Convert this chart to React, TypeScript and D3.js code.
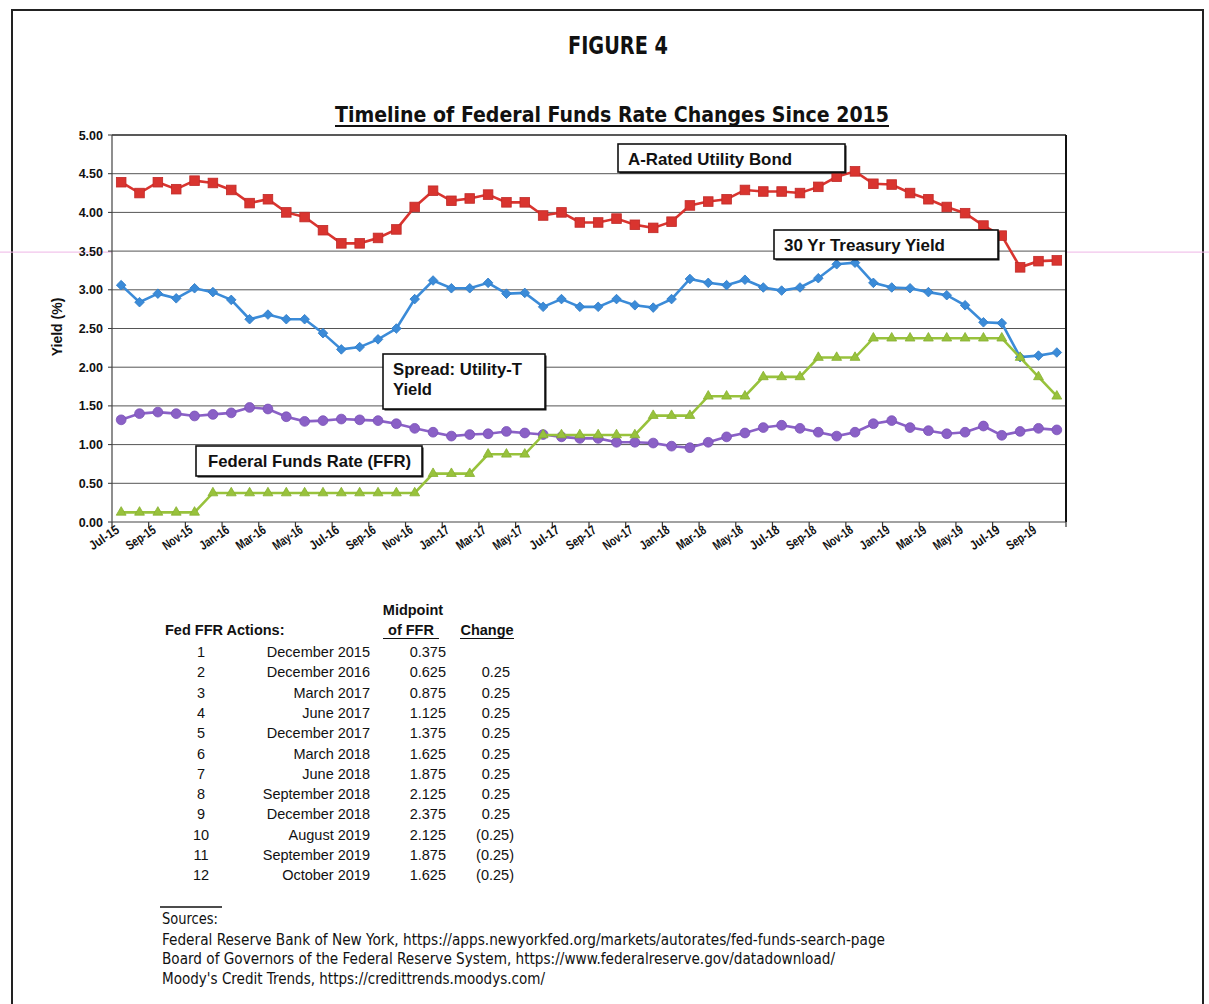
import * as d3 from 'd3'

const months = [
	'Jul-15', 'Aug-15', 'Sep-15', 'Oct-15', 'Nov-15', 'Dec-15',
	'Jan-16', 'Feb-16', 'Mar-16', 'Apr-16', 'May-16', 'Jun-16', 'Jul-16', 'Aug-16', 'Sep-16', 'Oct-16', 'Nov-16', 'Dec-16',
	'Jan-17', 'Feb-17', 'Mar-17', 'Apr-17', 'May-17', 'Jun-17', 'Jul-17', 'Aug-17', 'Sep-17', 'Oct-17', 'Nov-17', 'Dec-17',
	'Jan-18', 'Feb-18', 'Mar-18', 'Apr-18', 'May-18', 'Jun-18', 'Jul-18', 'Aug-18', 'Sep-18', 'Oct-18', 'Nov-18', 'Dec-18',
	'Jan-19', 'Feb-19', 'Mar-19', 'Apr-19', 'May-19', 'Jun-19', 'Jul-19', 'Aug-19', 'Sep-19', 'Oct-19',
]

// A-Rated utility bond yield
const utilityBond = [
	4.39, 4.25, 4.39, 4.3, 4.41, 4.38, 4.29, 4.12, 4.17, 4.0, 3.94, 3.77, 3.6, 3.6, 3.67, 3.78, 4.07, 4.28,
	4.15, 4.18, 4.23, 4.13, 4.13, 3.96, 4.0, 3.87, 3.87, 3.92, 3.84, 3.8,
	3.88, 4.09, 4.14, 4.17, 4.29, 4.27, 4.27, 4.25, 4.33, 4.46, 4.53, 4.37,
	4.36, 4.25, 4.17, 4.07, 3.99, 3.83, 3.7, 3.29, 3.37, 3.38,
]

// 30 yr treasury yield
const treasury30 = [
	3.06, 2.84, 2.95, 2.89, 3.02, 2.97, 2.87, 2.62, 2.68, 2.62, 2.62, 2.44, 2.23, 2.26, 2.36, 2.5, 2.88, 3.12,
	3.02, 3.02, 3.09, 2.95, 2.96, 2.78, 2.88, 2.78, 2.78, 2.88, 2.8, 2.77,
	2.88, 3.14, 3.09, 3.06, 3.13, 3.03, 2.99, 3.03, 3.15, 3.33, 3.35, 3.09,
	3.03, 3.02, 2.97, 2.93, 2.8, 2.58, 2.57, 2.13, 2.15, 2.19,
]

// spread utility - treasury
const spread = [
	1.32, 1.4, 1.42, 1.4, 1.37, 1.39, 1.41, 1.48, 1.46, 1.36, 1.3, 1.31, 1.33, 1.32, 1.31, 1.27, 1.21, 1.16,
	1.11, 1.13, 1.14, 1.17, 1.15, 1.13, 1.1, 1.08, 1.08, 1.03, 1.03, 1.02,
	0.98, 0.96, 1.03, 1.1, 1.15, 1.22, 1.25, 1.21, 1.16, 1.11, 1.16, 1.27,
	1.31, 1.22, 1.18, 1.14, 1.16, 1.24, 1.12, 1.17, 1.21, 1.19,
]

// fed funds rate midpoint
const ffr = [
	0.125, 0.125, 0.125, 0.125, 0.125,
	0.375, 0.375, 0.375, 0.375, 0.375, 0.375, 0.375, 0.375, 0.375, 0.375, 0.375, 0.375,
	0.625, 0.625, 0.625, 0.875, 0.875, 0.875,
	1.125, 1.125, 1.125, 1.125, 1.125, 1.125,
	1.375, 1.375, 1.375, 1.625, 1.625, 1.625, 1.875, 1.875, 1.875, 2.125, 2.125, 2.125,
	2.375, 2.375, 2.375, 2.375, 2.375, 2.375, 2.375, 2.375,
	2.125, 1.875, 1.625,
]

const yTicks = [0, 0.5, 1, 1.5, 2, 2.5, 3, 3.5, 4, 4.5, 5]

const actionDates = [
	'December 2015', 'December 2016', 'March 2017', 'June 2017', 'December 2017', 'March 2018',
	'June 2018', 'September 2018', 'December 2018', 'August 2019', 'September 2019', 'October 2019',
]
const actionMidpoints = ['0.375', '0.625', '0.875', '1.125', '1.375', '1.625', '1.875', '2.125', '2.375', '2.125', '1.875', '1.625']
const actionChanges = ['', '0.25', '0.25', '0.25', '0.25', '0.25', '0.25', '0.25', '0.25', '(0.25)', '(0.25)', '(0.25)']

const sources = [
	'Federal Reserve Bank of New York, https://apps.newyorkfed.org/markets/autorates/fed-funds-search-page',
	'Board of Governors of the Federal Reserve System, https://www.federalreserve.gov/datadownload/',
	"Moody's Credit Trends, https://credittrends.moodys.com/",
]
const sourceWidths = [723, 673, 383]

const SANS = "'Liberation Sans', Arial, Helvetica, sans-serif"
const NARROW = "'Liberation Sans Narrow', 'Arial Narrow', 'DejaVu Sans Condensed', sans-serif"

const RED = '#d9342f'
const BLUE = '#3b8bd8'
const GREEN = '#98c23c'
const PURPLE = '#8a60c6'

export default function App() {
	const W = 1209
	const H = 1004
	const left = 112
	const right = 1066
	const top = 135
	const bottom = 522

	const x = d3.scaleBand<string>().domain(months).range([left, right])
	const cx = (i: number) => (x(months[i]) as number) + x.bandwidth() / 2
	const y = d3.scaleLinear().domain([0, 5]).range([bottom, top])

	const line = d3
		.line<number>()
		.x((d, i) => cx(i))
		.y((d) => y(d))

	const diamond = d3.symbol(d3.symbolSquare, 46)()
	const triangle = d3.symbol(d3.symbolTriangle, 42)()

	const rowY = (i: number) => 657 + i * 20.3

	const box = (bx: number, by: number, bw: number, bh: number) => (
		<g>
			<rect x={bx + 1.5} y={by + 1.5} width={bw} height={bh} fill='#111' />
			<rect x={bx} y={by} width={bw} height={bh} fill='#fff' stroke='#111' strokeWidth={1.6} />
		</g>
	)

	// annotation label, fitted to the width it takes in the figure
	const label = (tx: number, ty: number, s: string, w: number) => (
		<text x={tx} y={ty} fontFamily={SANS} fontWeight='bold' fontSize={16.5} textLength={w} lengthAdjust='spacingAndGlyphs' fill='#111'>
			{s}
		</text>
	)

	return (
		<div style={{ position: 'absolute', left: 0, top: 0 }}>
			<svg width={W} height={H} style={{ display: 'block', background: '#fff' }}>
				{/* page frame */}
				<path d={`M12,${H} L12,10 L1203,10 L1203,${H}`} fill='none' stroke='#222' strokeWidth={2} />
				{/* scan artifact line */}
				<line x1={0} x2={W} y1={y(3.5) + 1} y2={y(3.5) + 1} stroke='#eeb6e6' strokeWidth={1} />

				<text x={618} y={54} textAnchor='middle' fontFamily={NARROW} fontWeight='bold' fontSize={24} textLength={100} lengthAdjust='spacingAndGlyphs' fill='#111'>
					FIGURE 4
				</text>
				<text x={612} y={122} textAnchor='middle' fontFamily={NARROW} fontWeight='bold' fontSize={21} textLength={554} lengthAdjust='spacingAndGlyphs' fill='#111'>
					Timeline of Federal Funds Rate Changes Since 2015
				</text>
				<line x1={335} x2={889} y1={126} y2={126} stroke='#111' strokeWidth={2} />

				{/* plot area */}
				<rect x={left} y={top} width={right - left} height={bottom - top} fill='#fff' />
				{yTicks.map((t) => (
					<g key={t}>
						{t > 0 && <line x1={left} x2={right} y1={y(t)} y2={y(t)} stroke={t === 5 ? '#222' : '#555'} strokeWidth={t === 5 ? 1.4 : 1} />}
						<line x1={left - 4} x2={left} y1={y(t)} y2={y(t)} stroke='#333' strokeWidth={1} />
						<text x={left - 9} y={y(t) + 4.5} textAnchor='end' fontFamily={SANS} fontWeight='bold' fontSize={12.5} fill='#111'>
							{t.toFixed(2)}
						</text>
					</g>
				))}
				<line x1={right} x2={right} y1={top} y2={bottom} stroke='#111' strokeWidth={2} />
				<line x1={left} x2={left} y1={top} y2={bottom} stroke='#444' strokeWidth={1.2} />
				<line x1={left} x2={right} y1={bottom} y2={bottom} stroke='#444' strokeWidth={1.2} />

				{months.map((m, i) =>
					i % 2 === 0 ? (
						<g key={m}>
							<line x1={x(m) as number} x2={x(m) as number} y1={bottom} y2={bottom + 5} stroke='#333' strokeWidth={1.2} />
							<text
								transform={`translate(${cx(i) - 1},${bottom + 10}) rotate(-34)`}
								textAnchor='end'
								fontFamily={SANS}
								fontWeight='bold'
								fontSize={13}
								textLength={33}
								lengthAdjust='spacingAndGlyphs'
								fill='#111'>
								{m}
							</text>
						</g>
					) : null,
				)}
				<line x1={right} x2={right} y1={bottom} y2={bottom + 5} stroke='#333' strokeWidth={1.2} />

				<text transform={`translate(62,327) rotate(-90)`} textAnchor='middle' fontFamily={SANS} fontWeight='bold' fontSize={14} fill='#111'>
					Yield (%)
				</text>

				{/* series */}
				<path d={line(utilityBond) as string} fill='none' stroke={RED} strokeWidth={2.6} />
				{utilityBond.map((v, i) => (
					<rect key={i} x={cx(i) - 4.8} y={y(v) - 4.8} width={9.6} height={9.6} fill={RED} stroke='#c02a28' strokeWidth={0.8} />
				))}

				<path d={line(treasury30) as string} fill='none' stroke={BLUE} strokeWidth={2.6} />
				{treasury30.map((v, i) => (
					<path key={i} d={diamond as string} transform={`translate(${cx(i)},${y(v)}) rotate(45)`} fill={BLUE} stroke='#2f7cc8' strokeWidth={0.8} />
				))}

				<path d={line(spread) as string} fill='none' stroke={PURPLE} strokeWidth={2.6} />
				{spread.map((v, i) => (
					<circle key={i} cx={cx(i)} cy={y(v)} r={4.9} fill={PURPLE} stroke='#7a52b8' strokeWidth={0.8} />
				))}

				<path d={line(ffr) as string} fill='none' stroke={GREEN} strokeWidth={2.6} />
				{ffr.map((v, i) => (
					<path key={i} d={triangle as string} transform={`translate(${cx(i)},${y(v)})`} fill={GREEN} stroke='#86b030' strokeWidth={0.8} />
				))}

				{/* annotation boxes */}
				{box(618, 144, 227, 28)}
				{label(628, 165, 'A-Rated Utility Bond', 164)}
				{box(774, 230, 224, 29)}
				{label(784, 251, '30 Yr Treasury Yield', 161)}
				{box(383, 354, 162, 55)}
				{label(393, 375, 'Spread: Utility-T', 129)}
				{label(393, 395, 'Yield', 39)}
				{box(196, 446, 226, 30)}
				{label(208, 467, 'Federal Funds Rate (FFR)', 203)}

				{/* actions table */}
				<g fontFamily={SANS} fontSize={14.5} fill='#111'>
					<text x={413} y={615} textAnchor='middle' fontWeight='bold'>
						Midpoint
					</text>
					<text x={165} y={635} fontWeight='bold'>
						Fed FFR Actions:
					</text>
					<text x={411} y={635} textAnchor='middle' fontWeight='bold'>
						of FFR
					</text>
					<line x1={383} x2={439} y1={638.5} y2={638.5} stroke='#111' strokeWidth={1.2} />
					<text x={487} y={635} textAnchor='middle' fontWeight='bold'>
						Change
					</text>
					<line x1={460} x2={514} y1={638.5} y2={638.5} stroke='#111' strokeWidth={1.2} />
					{actionDates.map((d, i) => (
						<g key={d + i}>
							<text x={201} y={rowY(i)} textAnchor='middle'>
								{i + 1}
							</text>
							<text x={370} y={rowY(i)} textAnchor='end'>
								{d}
							</text>
							<text x={446} y={rowY(i)} textAnchor='end'>
								{actionMidpoints[i]}
							</text>
							<text x={actionChanges[i].startsWith('(') ? 514 : 510} y={rowY(i)} textAnchor='end'>
								{actionChanges[i]}
							</text>
						</g>
					))}
				</g>

				{/* sources */}
				<line x1={160} x2={222} y1={907} y2={907} stroke='#111' strokeWidth={1.5} />
				<g fontFamily={NARROW} fontSize={15} fill='#111'>
					<text x={162} y={924} textLength={56} lengthAdjust='spacingAndGlyphs'>
						Sources:
					</text>
					{sources.map((s, i) => (
						<text key={s} x={162} y={945 + i * 19.3} textLength={sourceWidths[i]} lengthAdjust='spacingAndGlyphs'>
							{s}
						</text>
					))}
				</g>
			</svg>
		</div>
	)
}
